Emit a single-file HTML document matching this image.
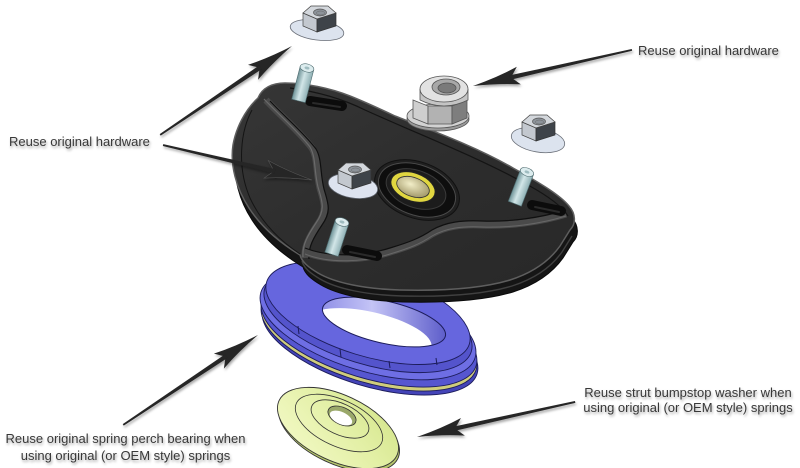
<!DOCTYPE html>
<html>
<head>
<meta charset="utf-8">
<style>
  html,body{margin:0;padding:0;background:#fff;}
  svg{display:block;}
  text{font-family:"Liberation Sans",Arial,sans-serif;font-size:13px;fill:#383838;}
</style>
</head>
<body>
<svg width="800" height="468" viewBox="0 0 800 468" xmlns="http://www.w3.org/2000/svg">
<defs>
  <filter id="sh" x="-20%" y="-50%" width="140%" height="200%">
    <feDropShadow dx="1" dy="2" stdDeviation="1.4" flood-color="#000" flood-opacity="0.35"/>
  </filter>
  <linearGradient id="plateG" x1="0" y1="0" x2="1" y2="1">
    <stop offset="0" stop-color="#363636"/>
    <stop offset="0.5" stop-color="#2d2d2d"/>
    <stop offset="1" stop-color="#282828"/>
  </linearGradient>
  <linearGradient id="studG" x1="0" y1="0" x2="1" y2="0">
    <stop offset="0" stop-color="#6f9398"/>
    <stop offset="0.45" stop-color="#d2e6e8"/>
    <stop offset="1" stop-color="#8fb0b4"/>
  </linearGradient>
  <linearGradient id="wallG" x1="0" y1="0" x2="1" y2="0">
    <stop offset="0" stop-color="#7a7ae0"/>
    <stop offset="0.45" stop-color="#c4c4f6"/>
    <stop offset="1" stop-color="#4a4ac2"/>
  </linearGradient>
  <linearGradient id="greenG" x1="0" y1="1" x2="1" y2="0">
    <stop offset="0" stop-color="#f4fac8"/>
    <stop offset="0.6" stop-color="#e2efa4"/>
    <stop offset="1" stop-color="#d2e488"/>
  </linearGradient>
  <radialGradient id="bushG" cx="0.4" cy="0.4" r="0.7">
    <stop offset="0" stop-color="#f2eec8"/>
    <stop offset="1" stop-color="#9a9060"/>
  </radialGradient>
  <clipPath id="holeClip">
    <ellipse cx="384" cy="322" rx="63" ry="21" transform="rotate(13 384 322)"/>
  </clipPath>
  <g id="nut">
    <polygon points="-17,0 -3,6 -3,19 -17,13" fill="#c3c8cf" stroke="#444" stroke-width=".7"/>
    <polygon points="-3,6 16,0 16,13 -3,19" fill="#3e4349" stroke="#333" stroke-width=".7"/>
    <polygon points="-17,0 -9,-7 8,-7 16,0 -3,6" fill="#d3d7dc" stroke="#444" stroke-width=".7"/>
    <ellipse cx="0" cy="-0.5" rx="6.5" ry="3.5" fill="#8d939a" stroke="#555" stroke-width=".7"/>
    <ellipse cx="0.5" cy="0" rx="4" ry="2" fill="none" stroke="#666" stroke-width=".5"/>
  </g>
  <g id="stud">
    <rect x="-7" y="0" width="14" height="34" fill="url(#studG)" stroke="#4d6a6e" stroke-width=".6"/>
    <ellipse cx="0" cy="0" rx="7" ry="4" fill="#dcecee" stroke="#4d6a6e" stroke-width=".6"/>
    <ellipse cx="0" cy="0" rx="2.5" ry="1.4" fill="#9fbcc0"/>
  </g>
</defs>

<!-- ===== Spring perch ring ===== -->
<g stroke="#1c1c5a" stroke-width=".9">
  <ellipse cx="370" cy="341" rx="112" ry="45" transform="rotate(17 370 341)" fill="#4444b8"/>
  <ellipse cx="369" cy="337" rx="112" ry="45" transform="rotate(17 369 337)" fill="#cfcd7c"/>
  <ellipse cx="369" cy="333" rx="112" ry="45" transform="rotate(17 369 333)" fill="#5656d0"/>
  <ellipse cx="368" cy="325" rx="112" ry="46" transform="rotate(17 368 325)" fill="#6e6ee4"/>
  <ellipse cx="368" cy="320" rx="108" ry="44" transform="rotate(17 368 320)" fill="#5454cc"/>
  <ellipse cx="368" cy="313" rx="106" ry="43" transform="rotate(17 368 313)" fill="#6666de"/>
</g>
<g stroke="#1c1c5a" stroke-width="1">
  <line x1="298" y1="326" x2="299" y2="334"/>
  <line x1="340" y1="349" x2="341" y2="357"/>
  <line x1="389" y1="361" x2="390" y2="368"/>
  <line x1="436" y1="358" x2="437" y2="365"/>
</g>
<!-- hole -->
<g clip-path="url(#holeClip)">
  <rect x="300" y="280" width="160" height="80" fill="url(#wallG)"/>
  <ellipse cx="370" cy="333" rx="63" ry="21" transform="rotate(13 370 333)" fill="#fff"/>
</g>
<ellipse cx="384" cy="322" rx="63" ry="21" transform="rotate(13 384 322)" fill="none" stroke="#1c1c5a" stroke-width="1"/>

<!-- ===== Green bumpstop washer ===== -->
<ellipse cx="339" cy="431" rx="65" ry="33" transform="rotate(25 339 431)" fill="#b4c46c" stroke="#333" stroke-width=".9"/>
<ellipse cx="338" cy="428" rx="65" ry="33" transform="rotate(25 338 428)" fill="url(#greenG)" stroke="#333" stroke-width=".9"/>
<ellipse cx="339" cy="423" rx="47" ry="23" transform="rotate(25 339 423)" fill="none" stroke="#333" stroke-width=".8"/>
<ellipse cx="340" cy="419" rx="31" ry="15.5" transform="rotate(25 340 419)" fill="none" stroke="#333" stroke-width=".8"/>
<ellipse cx="342" cy="416" rx="15" ry="8.5" transform="rotate(25 342 416)" fill="#9aa86a" stroke="#333" stroke-width=".8"/>
<ellipse cx="341" cy="418" rx="12" ry="6" transform="rotate(25 341 418)" fill="#fff"/>

<!-- ===== Mounting plate ===== -->
<g>
  <path transform="translate(3,12)" fill="#151515" stroke="#0a0a0a" stroke-width="1"
    d="M258,98 C262,88 272,83 285,83 C305,83 330,88 350,96 C365,102 378,108 395,116 C430,130 475,146 513,168 C540,183 560,195 569,206 C576,214 576,224 570,230 L560,246 C550,260 535,272 510,280 C480,289 440,291 400,290 C365,289 335,283 318,273 C308,267 302,262 300,255 C282,244 262,228 249,208 C236,188 230,165 233,145 C236,128 245,110 258,98 Z"/>
  <path transform="translate(2,6)" fill="none" stroke="#404040" stroke-width="1.4"
    d="M300,255 C302,262 308,267 318,273 C335,283 365,289 400,290 C440,291 480,289 510,280 C535,272 550,260 560,246 L570,230"/>
  <path fill="url(#plateG)" stroke="#5e5e5e" stroke-width="1.5"
    d="M258,98 C262,88 272,83 285,83 C305,83 330,88 350,96 C365,102 378,108 395,116 C430,130 475,146 513,168 C540,183 560,195 569,206 C576,214 576,224 570,230 L560,246 C550,260 535,272 510,280 C480,289 440,291 400,290 C365,289 335,283 318,273 C308,267 302,262 300,255 C282,244 262,228 249,208 C236,188 230,165 233,145 C236,128 245,110 258,98 Z"/>
  <g fill="none">
    <path d="M266,100 C280,115 300,132 312,148 C318,158 316,172 320,188 C324,202 328,210 318,224 C310,236 304,246 305,258" stroke="#4a4a4a" stroke-width="7"/>
    <path d="M266,100 C280,115 300,132 312,148 C318,158 316,172 320,188 C324,202 328,210 318,224 C310,236 304,246 305,258" stroke="#6a6a6a" stroke-width="1.2" transform="translate(-2,-1)"/>
    <path d="M266,100 C280,115 300,132 312,148 C318,158 316,172 320,188 C324,202 328,210 318,224 C310,236 304,246 305,258" stroke="#101010" stroke-width="1.2" transform="translate(4,1)"/>
    <path d="M305,252 C330,262 365,260 390,252 C410,246 420,242 432,234 C446,226 462,224 482,225 C510,226 540,222 566,214" stroke="#4a4a4a" stroke-width="7"/>
    <path d="M305,252 C330,262 365,260 390,252 C410,246 420,242 432,234 C446,226 462,224 482,225 C510,226 540,222 566,214" stroke="#101010" stroke-width="1.2" transform="translate(0,-4)"/>
    <path d="M305,252 C330,262 365,260 390,252 C410,246 420,242 432,234 C446,226 462,224 482,225 C510,226 540,222 566,214" stroke="#676767" stroke-width="1" transform="translate(0,2)"/>
    <path d="M290,88 C320,92 345,100 365,110 C420,135 480,158 528,185 C548,196 562,206 568,216" stroke="#141414" stroke-width="1.2"/>
    <path d="M252,110 C240,132 237,168 250,198 C262,224 282,242 300,254" stroke="#141414" stroke-width="1"/>
  </g>
  <g stroke-linecap="round">
    <line x1="310" y1="101" x2="342" y2="106" stroke="#0c0c0c" stroke-width="10"/>
    <line x1="313" y1="103" x2="340" y2="107" stroke="#2a2a2a" stroke-width="2"/>
    <line x1="532" y1="205" x2="561" y2="211" stroke="#0c0c0c" stroke-width="10"/>
    <line x1="535" y1="207" x2="559" y2="212" stroke="#2a2a2a" stroke-width="2"/>
    <line x1="347" y1="250" x2="377" y2="256" stroke="#0c0c0c" stroke-width="10"/>
    <line x1="350" y1="252" x2="375" y2="257" stroke="#2a2a2a" stroke-width="2"/>
  </g>
  <use href="#stud" transform="translate(307,68) rotate(14.5)"/>
  <use href="#stud" transform="translate(527,172) rotate(21)"/>
  <use href="#stud" transform="translate(342,222) rotate(18)"/>
  <ellipse cx="417" cy="190" rx="44" ry="28" transform="rotate(20 417 190)" fill="#202020" stroke="#111" stroke-width="1"/>
  <ellipse cx="417" cy="190" rx="40" ry="25" transform="rotate(20 417 190)" fill="#0e0e0e" stroke="#4a4a4a" stroke-width="1"/>
  <ellipse cx="416" cy="189" rx="31" ry="18.5" transform="rotate(20 416 189)" fill="#1c1c1c" stroke="#3a3a3a" stroke-width="1"/>
  <ellipse cx="413" cy="187" rx="23" ry="14" transform="rotate(20 413 187)" fill="#e0d640" stroke="#222" stroke-width="1"/>
  <ellipse cx="413" cy="187" rx="17" ry="9.5" transform="rotate(20 413 187)" fill="url(#bushG)" stroke="#333" stroke-width=".8"/>
  <ellipse cx="353" cy="186" rx="25" ry="12" transform="rotate(10 353 186)" fill="#dde3ef" stroke="#5a5f68" stroke-width=".8"/>
  <use href="#nut" transform="translate(355,170)"/>
</g>

<!-- ===== Free hardware ===== -->
<ellipse cx="317" cy="30" rx="27" ry="10" transform="rotate(8 317 30)" fill="#dce3ee" stroke="#6a6f78" stroke-width=".8"/>
<use href="#nut" transform="translate(320,13)"/>
<ellipse cx="538" cy="140" rx="27" ry="12" transform="rotate(10 538 140)" fill="#dce3ee" stroke="#6a6f78" stroke-width=".8"/>
<use href="#nut" transform="translate(539,122)"/>
<g stroke="#555" stroke-width=".8">
  <ellipse cx="438" cy="119" rx="31" ry="12" fill="#9a9a9a"/>
  <ellipse cx="438" cy="116" rx="31" ry="12" fill="#d2d2d2"/>
  <polygon points="413,100 428,106 428,124 413,118" fill="#cfcfcf"/>
  <polygon points="428,106 452,106 452,124 428,124" fill="#b2b2b2"/>
  <polygon points="452,106 467,100 467,118 452,124" fill="#7e7e7e"/>
  <path d="M420,89 L420,100 Q444,112 468,100 L468,89" fill="#c4c4c4"/>
  <ellipse cx="444" cy="89" rx="24" ry="13" fill="#e2e2e2"/>
  <ellipse cx="446" cy="87" rx="14" ry="8" fill="#a8a8a8"/>
  <ellipse cx="447" cy="88" rx="9" ry="5" fill="#7a7a7a"/>
</g>

<!-- ===== Arrows ===== -->
<g fill="#252525" filter="url(#sh)">
  <g transform="translate(292,46) rotate(146)">
    <path d="M0,0 Q26,-3 47,-9 L39,0 L47,9 Q26,3 0,0 Z"/>
    <polygon points="38,-2.2 159,-0.9 159,0.9 38,2.2"/>
  </g>
  <g transform="translate(312,180) rotate(193.2)">
    <path d="M0,0 Q26,-3 47,-9 L39,0 L47,9 Q26,3 0,0 Z" stroke="#555" stroke-width=".6"/>
    <polygon points="38,-2.2 153,-0.9 153,0.9 38,2.2"/>
  </g>
  <g transform="translate(473,86) rotate(-12.8)">
    <path d="M0,0 Q26,-3 47,-9 L39,0 L47,9 Q26,3 0,0 Z"/>
    <polygon points="38,-2.2 163,-0.9 163,0.9 38,2.2"/>
  </g>
  <g transform="translate(258,335) rotate(146.3)">
    <path d="M0,0 Q26,-3 47,-9 L39,0 L47,9 Q26,3 0,0 Z"/>
    <polygon points="38,-2.2 162,-0.9 162,0.9 38,2.2"/>
  </g>
  <g transform="translate(417,437) rotate(-12.5)">
    <path d="M0,0 Q26,-3 47,-9 L39,0 L47,9 Q26,3 0,0 Z"/>
    <polygon points="38,-2.2 162,-0.9 162,0.9 38,2.2"/>
  </g>
</g>

<!-- ===== Labels ===== -->
<g filter="url(#sh)">
  <text x="638" y="55">Reuse original hardware</text>
  <text x="9" y="146">Reuse original hardware</text>
  <text x="125.5" y="443" text-anchor="middle">Reuse original spring perch bearing when</text>
  <text x="125.5" y="460" text-anchor="middle">using original (or OEM style) springs</text>
  <text x="688" y="397" text-anchor="middle">Reuse strut bumpstop washer when</text>
  <text x="688" y="412" text-anchor="middle">using original (or OEM style) springs</text>
</g>
</svg>
</body>
</html>
